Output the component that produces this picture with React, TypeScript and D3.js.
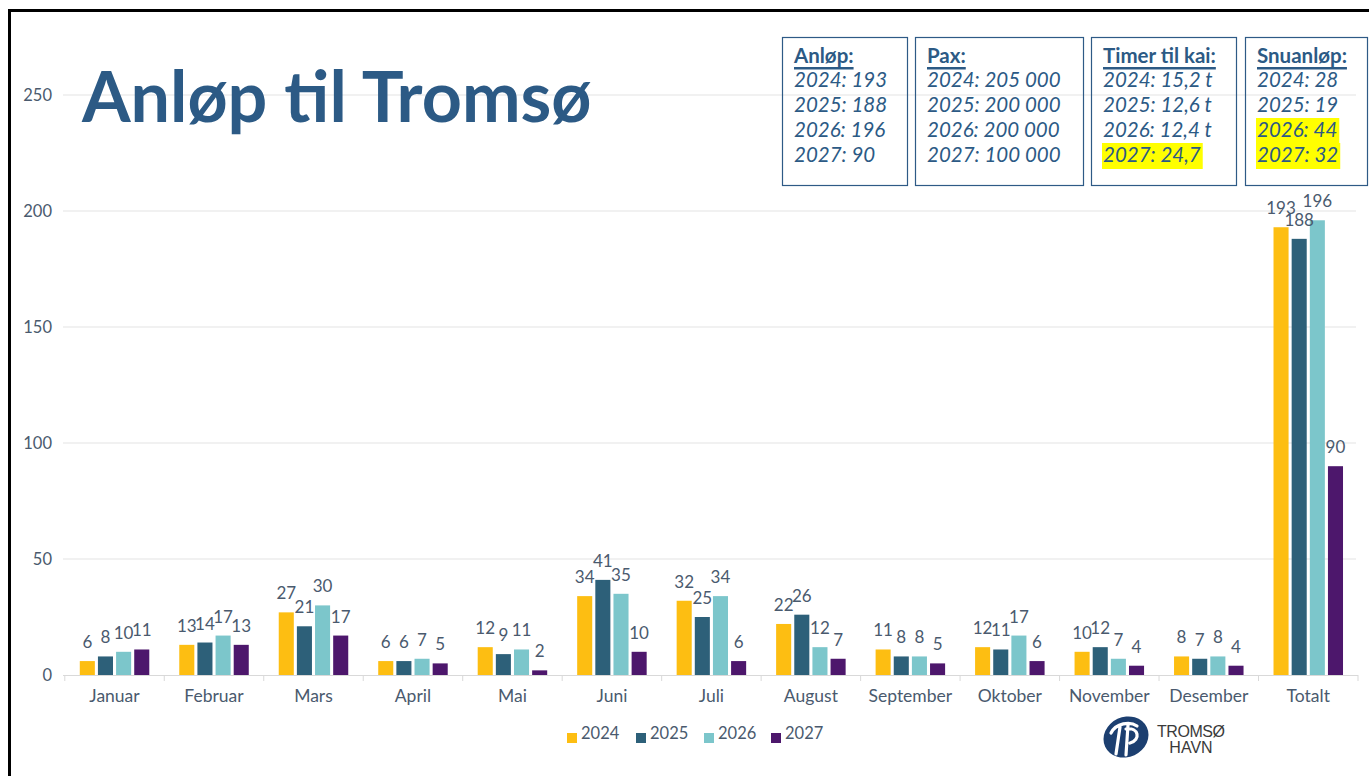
import React, { useEffect, useRef } from "react";
import * as d3 from "d3";

const categories = ["Januar","Februar","Mars","April","Mai","Juni","Juli","August","September","Oktober","November","Desember","Totalt"];
const years = ["2024","2025","2026","2027"];
const values2024 = [6,13,27,6,12,34,32,22,11,12,10,8,193];
const values2025 = [8,14,21,6,9,41,25,26,8,11,12,7,188];
const values2026 = [10,17,30,7,11,35,34,12,8,17,7,8,196];
const values2027 = [11,13,17,5,2,10,6,7,5,6,4,4,90];
const yTicks = [0,50,100,150,200,250];
const colors = ["#FDBE12","#2D6079","#7CC6CB","#4D176C"];

const boxTitles = ["Anløp:","Pax:","Timer til kai:","Snuanløp:"];
const boxAnlop = ["2024: 193","2025: 188","2026: 196","2027: 90"];
const boxPax = ["2024: 205 000","2025: 200 000","2026: 200 000","2027: 100 000"];
const boxTimer = ["2024: 15,2 t","2025: 12,6 t","2026: 12,4 t","2027: 24,7"];
const boxSnu = ["2024: 28","2025: 19","2026: 44","2027: 32"];
const boxHighlights = [[false,false,false,false],[false,false,false,false],[false,false,false,true],[false,false,true,true]];

const W = 1369, H = 776;
const FONT = "Lato, 'Open Sans', sans-serif";
const TEXT = "#4A5A6E";
const BLUE = "#2C5A85";

export default function App() {
  const ref = useRef<SVGSVGElement>(null);
  useEffect(() => {
    const svg = d3.select(ref.current);
    svg.selectAll("*").remove();
    const series = [values2024, values2025, values2026, values2027];

    svg.append("rect").attr("width", W).attr("height", H).attr("fill", "#fff");

    const y = d3.scaleLinear().domain([0, 250]).range([675, 95]);
    const x0 = d3.scaleBand().domain(categories).range([64.8, 1358]).paddingInner(0).paddingOuter(0);
    const groupW = 69.5;
    const off = (x0.bandwidth() - groupW) / 2;
    const x1 = d3.scaleBand().domain(years).range([off, off + groupW]).paddingInner(0.17).paddingOuter(0);

    // grid
    const g = svg.append("g");
    g.selectAll("line.grid").data(yTicks.filter(t => t > 0)).join("line")
      .attr("x1", 63).attr("x2", 1356).attr("y1", d => y(d)).attr("y2", d => y(d))
      .attr("stroke", "#E3E3E3").attr("stroke-width", 1);
    g.selectAll("text.yt").data(yTicks).join("text")
      .attr("x", 52).attr("y", d => y(d) + 6).attr("text-anchor", "end")
      .attr("font-family", FONT).attr("font-size", 16.5).attr("fill", TEXT).text(d => d);

    // axis line and ticks
    g.append("line").attr("x1", 63).attr("x2", 1358).attr("y1", y(0) + 0.5).attr("y2", y(0) + 0.5)
      .attr("stroke", "#D9D9D9").attr("stroke-width", 1);
    const bounds = categories.map(c => x0(c)!).concat([x0(categories[categories.length - 1])! + x0.bandwidth()]);
    g.selectAll("line.tk").data(bounds).join("line")
      .attr("x1", d => d).attr("x2", d => d).attr("y1", y(0)).attr("y2", y(0) + 6)
      .attr("stroke", "#D9D9D9");

    // title
    svg.append("text").attr("x", 82).attr("y", 122).attr("font-family", FONT).attr("font-weight", 700)
      .attr("font-size", 70).attr("fill", BLUE).text("Anløp til Tromsø");

    // bars
    categories.forEach((c, ci) => {
      const gg = svg.append("g").attr("transform", `translate(${x0(c)},0)`);
      years.forEach((yr, yi) => {
        const v = series[yi][ci];
        gg.append("rect").attr("x", x1(yr)!).attr("width", x1.bandwidth())
          .attr("y", y(v)).attr("height", y(0) - y(v)).attr("fill", colors[yi]);
      });
      years.forEach((yr, yi) => {
        const v = series[yi][ci];
        gg.append("text").attr("x", x1(yr)! + x1.bandwidth() / 2).attr("y", y(v) - 13)
          .attr("text-anchor", "middle").attr("font-family", FONT).attr("font-size", 17)
          .attr("fill", TEXT).text(v);
      });
      svg.append("text").attr("x", x0(c)! + x0.bandwidth() / 2).attr("y", 702)
        .attr("text-anchor", "middle").attr("font-family", FONT).attr("font-size", 17.5)
        .attr("fill", TEXT).text(c);
    });

    // legend
    const legX = [567, 636, 704, 771];
    years.forEach((yr, i) => {
      svg.append("rect").attr("x", legX[i]).attr("y", 733).attr("width", 10).attr("height", 10).attr("fill", colors[i]);
      svg.append("text").attr("x", legX[i] + 14).attr("y", 739).attr("font-family", FONT)
        .attr("font-size", 16.5).attr("fill", TEXT).text(yr);
    });

    // info boxes
    const boxes = [
      { x: 782, w: 125, lines: boxAnlop },
      { x: 915, w: 168, lines: boxPax },
      { x: 1091, w: 145, lines: boxTimer },
      { x: 1245, w: 122, lines: boxSnu },
    ];
    boxes.forEach((b, bi) => {
      const bg = svg.append("g");
      const tx = b.x + 12;
      const texts: any[] = [];
      b.lines.forEach((l, li) => {
        const t = bg.append("text").attr("x", tx).attr("y", 87 + li * 25).attr("font-family", FONT)
          .attr("font-style", "italic").attr("font-size", 20.5).attr("fill", BLUE).text(l);
        texts.push(t);
      });
      b.lines.forEach((l, li) => {
        if (boxHighlights[bi][li]) {
          const w = (texts[li].node() as SVGTextElement).getComputedTextLength();
          bg.insert("rect", "text").attr("x", tx - 1).attr("y", 87 + li * 25 - 19).attr("width", w + 3)
            .attr("height", 26).attr("fill", "#FFFF00");
        }
      });
      const tt = bg.append("text").attr("x", tx).attr("y", 63).attr("font-family", FONT)
        .attr("font-weight", 700).attr("font-size", 20.5).attr("fill", BLUE).text(boxTitles[bi]);
      const tw = (tt.node() as SVGTextElement).getComputedTextLength();
      bg.append("rect").attr("x", tx).attr("y", 67).attr("width", tw).attr("height", 2.5).attr("fill", BLUE);
      bg.append("rect").attr("x", b.x + 0.5).attr("y", 37.5).attr("width", b.w).attr("height", 148)
        .attr("fill", "none").attr("stroke", "#2E5A86").attr("stroke-width", 1.2);
    });

    // logo
    const lg = svg.append("g").attr("transform", "translate(1126,737)");
    lg.append("ellipse").attr("rx", 23).attr("ry", 20).attr("fill", "#1C3F70").attr("transform", "rotate(-25)");
    lg.append("path").attr("d", "M-15,-4 C-10,-14 4,-16 11,-11 M-6,-10 L-10,17 M2,-12 L0,18 M0,-8 C13,-10 15,3 4,6")
      .attr("fill", "none").attr("stroke", "#fff").attr("stroke-width", 3.2).attr("stroke-linecap", "round");
    svg.append("text").attr("x", 1191).attr("y", 737).attr("text-anchor", "middle").attr("font-family", "'Liberation Sans', Arial, sans-serif")
      .attr("font-size", 16).attr("fill", "#3a3a3a").attr("textLength", 68).text("TROMSØ");
    svg.append("text").attr("x", 1191).attr("y", 753).attr("text-anchor", "middle").attr("font-family", "'Liberation Sans', Arial, sans-serif")
      .attr("font-size", 16).attr("fill", "#3a3a3a").text("HAVN");

    // frame
    svg.append("rect").attr("x", 8).attr("y", 9).attr("width", W).attr("height", 3).attr("fill", "#000");
    svg.append("rect").attr("x", 8).attr("y", 9).attr("width", 3).attr("height", H).attr("fill", "#000");
  }, []);
  return <svg ref={ref} width={W} height={H} style={{ position: "absolute", left: 0, top: 0 }} />;
}
